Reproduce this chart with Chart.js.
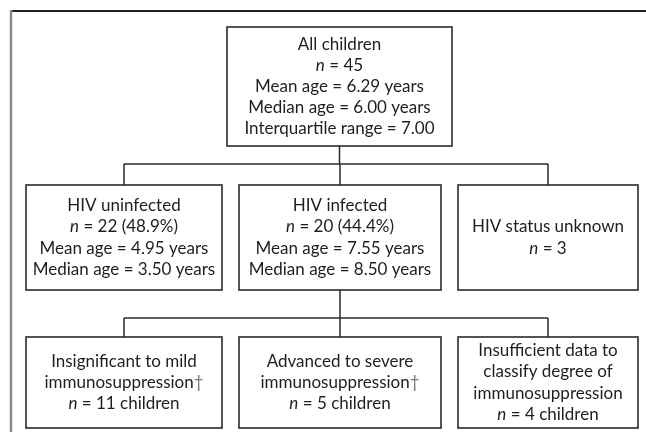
<!DOCTYPE html>
<html>
<head>
<meta charset="utf-8">
<script src="https://cdn.jsdelivr.net/npm/chart.js@4/dist/chart.umd.min.js"></script>
<style>
    html, body { margin: 0; padding: 0; background: #fff; }
    #wrap { width: 646px; height: 432px; }
</style>
</head>
<body>
<div id="wrap"><canvas id="flow" width="646" height="432"></canvas></div>
<script>
// Flow chart data
const allLabel = 'All children';
const allCount = 45;
const allMeanAge = '6.29';
const allMedianAge = '6.00';
const allIqr = '7.00';

const statusGroups = ['HIV uninfected', 'HIV infected', 'HIV status unknown'];
const statusCounts = ['22 (48.9%)', '20 (44.4%)', '3'];
const statusMeanAges = ['4.95', '7.55', null];
const statusMedianAges = ['3.50', '8.50', null];

const immuneGroups = [
    ['Insignificant to mild', 'immunosuppression\u2020'],
    ['Advanced to severe', 'immunosuppression\u2020'],
    ['Insufficient data to', 'classify degree of', 'immunosuppression']
];
const immuneCounts = [11, 5, 4];

// Build the text of each box
const topBox = [
    allLabel,
    'n = ' + allCount,
    'Mean age = ' + allMeanAge + ' years',
    'Median age = ' + allMedianAge + ' years',
    'Interquartile range = ' + allIqr
];
const statusBoxes = statusGroups.map((g, i) => {
    const lines = [g, 'n = ' + statusCounts[i]];
    if (statusMeanAges[i]) lines.push('Mean age = ' + statusMeanAges[i] + ' years');
    if (statusMedianAges[i]) lines.push('Median age = ' + statusMedianAges[i] + ' years');
    return lines;
});
const immuneBoxes = immuneGroups.map((g, i) => g.concat(['n = ' + immuneCounts[i] + ' children']));

// Layout in scale units
const colEdges = [[26, 222], [239, 441], [458, 638]];
const topEdges = [227, 452];
const rows = { top: [27, 146], status: [185, 290], immune: [337, 428] };
const joinY = [164, 318];

const FONT = 'Lato, "Open Sans", sans-serif';
const FONT_SIZE = 17;
const LINE_H = 21.2;

function drawLine(ctx, text, cx, cy) {
    const normal = FONT_SIZE + 'px ' + FONT;
    const italic = 'italic ' + FONT_SIZE + 'px ' + FONT;
    ctx.textBaseline = 'middle';
    ctx.textAlign = 'left';
    if (text.startsWith('n = ')) {
        ctx.font = italic;
        const wN = ctx.measureText('n').width;
        ctx.font = normal;
        const rest = text.slice(1);
        const wR = ctx.measureText(rest).width;
        let x = cx - (wN + wR) / 2;
        ctx.font = italic;
        ctx.fillText('n', x, cy);
        ctx.font = normal;
        ctx.fillText(rest, x + wN, cy);
    } else if (text.endsWith('\u2020')) {
        // dagger is lighter in the original
        ctx.font = normal;
        const body = text.slice(0, -1);
        const wB = ctx.measureText(body).width;
        const wD = ctx.measureText('\u2020').width;
        const x = cx - (wB + wD) / 2;
        ctx.fillText(body, x, cy);
        ctx.fillStyle = '#777';
        ctx.fillText('\u2020', x + wB, cy);
        ctx.fillStyle = '#1e1e1e';
    } else {
        ctx.font = normal;
        const w = ctx.measureText(text).width;
        ctx.fillText(text, cx - w / 2, cy);
    }
}

const flowPlugin = {
    id: 'flow',
    afterDraw(chart) {
        const ctx = chart.ctx;
        const X = v => chart.scales.x.getPixelForValue(v);
        const Y = v => chart.scales.y.getPixelForValue(v);

        ctx.save();
        // outer frame
        ctx.strokeStyle = '#222';
        ctx.lineWidth = 2;
        ctx.beginPath();
        ctx.moveTo(X(10), Y(11));
        ctx.lineTo(X(646), Y(11));
        ctx.stroke();
        ctx.strokeStyle = '#8a8a8a';
        ctx.lineWidth = 2.5;
        ctx.beginPath();
        ctx.moveTo(X(11), Y(10));
        ctx.lineTo(X(11), Y(432));
        ctx.stroke();

        function box(x0, x1, y0, y1, lines) {
            ctx.strokeStyle = '#2a2a2a';
            ctx.lineWidth = 1.6;
            ctx.strokeRect(X(x0), Y(y0), X(x1) - X(x0), Y(y1) - Y(y0));
            ctx.fillStyle = '#1e1e1e';
            const cx = (X(x0) + X(x1)) / 2;
            const cy = (Y(y0) + Y(y1)) / 2;
            const start = cy - (lines.length - 1) * LINE_H / 2;
            lines.forEach((t, i) => drawLine(ctx, t, cx, start + i * LINE_H));
        }

        function connector(fromX, fromY, midY, toY) {
            const centers = colEdges.map(e => (e[0] + e[1]) / 2);
            ctx.strokeStyle = '#2a2a2a';
            ctx.lineWidth = 1.5;
            ctx.beginPath();
            ctx.moveTo(X(fromX), Y(fromY));
            ctx.lineTo(X(fromX), Y(midY));
            ctx.moveTo(X(centers[0]), Y(midY));
            ctx.lineTo(X(centers[2]), Y(midY));
            centers.forEach(c => {
                ctx.moveTo(X(c), Y(midY));
                ctx.lineTo(X(c), Y(toY));
            });
            ctx.stroke();
        }

        connector((topEdges[0] + topEdges[1]) / 2, rows.top[1], joinY[0], rows.status[0]);
        connector((colEdges[1][0] + colEdges[1][1]) / 2, rows.status[1], joinY[1], rows.immune[0]);

        box(topEdges[0], topEdges[1], rows.top[0], rows.top[1], topBox);
        statusBoxes.forEach((lines, i) => box(colEdges[i][0], colEdges[i][1], rows.status[0], rows.status[1], lines));
        immuneBoxes.forEach((lines, i) => box(colEdges[i][0], colEdges[i][1], rows.immune[0], rows.immune[1], lines));
        ctx.restore();
    }
};

// invisible anchor points at every box centre
const anchors = [{ x: (topEdges[0] + topEdges[1]) / 2, y: (rows.top[0] + rows.top[1]) / 2 }]
    .concat(colEdges.map(e => ({ x: (e[0] + e[1]) / 2, y: (rows.status[0] + rows.status[1]) / 2 })))
    .concat(colEdges.map(e => ({ x: (e[0] + e[1]) / 2, y: (rows.immune[0] + rows.immune[1]) / 2 })));

new Chart(document.getElementById('flow'), {
    type: 'scatter',
    data: {
        datasets: [{
            data: anchors,
            pointRadius: 0,
            pointHoverRadius: 0
        }]
    },
    options: {
        responsive: false,
        animation: false,
        layout: { padding: 0 },
        plugins: { legend: { display: false }, tooltip: { enabled: false } },
        scales: {
            x: { type: 'linear', min: 0, max: 646, display: false },
            y: { type: 'linear', min: 0, max: 432, reverse: true, display: false }
        }
    },
    plugins: [flowPlugin]
});
</script>
</body>
</html>
